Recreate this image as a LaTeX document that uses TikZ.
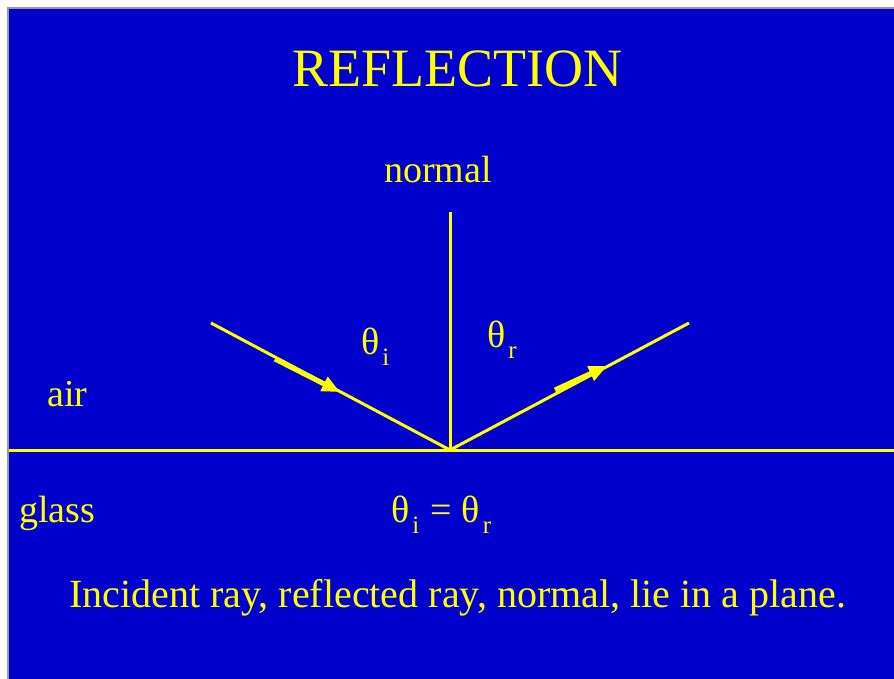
\documentclass[tikz,border=0pt]{standalone}
\usepackage{fontspec}
\setmainfont{Liberation Serif}
\usetikzlibrary{arrows.meta}
\definecolor{bg}{HTML}{0000CC}
\definecolor{ink}{HTML}{FFFF00}
\newcommand{\thsub}[1]{θ\kern3pt\raisebox{-0.3em}{\fontsize{25}{25}\selectfont #1}}
\begin{document}
\begin{tikzpicture}[x=1pt,y=-1pt,
  lbl/.style={text=ink,inner sep=0pt,font=\fontsize{38}{40}\selectfont},
  ray/.style={draw=ink,line width=3pt},
  raymark/.style={draw=ink,line width=5pt,-{Triangle[length=18pt,width=15pt]}}]
\useasboundingbox (0,0) rectangle (894,678);
\fill[white] (0,0) rectangle (894,678);
\draw[fill=bg,draw=gray!80,line width=1.2pt] (8,8) rectangle (900,690);
\coordinate (O) at (450,450);
\coordinate (inc) at (211,323);
\coordinate (refl) at (689,323);
\coordinate (ntop) at (450,212);
\coordinate (hl) at (9,450);
\coordinate (hr) at (894,450);
\coordinate (a1) at (275,359);
\coordinate (a2) at (340,392);
\coordinate (b1) at (555,390);
\coordinate (b2) at (607,366);
\draw[ray] (hl) -- (hr);
\draw[ray] (O) -- (ntop);
\draw[ray] (inc) -- (O) -- (refl);
\draw[raymark] (a1) -- (a2);
\draw[raymark] (b1) -- (b2);
\node[lbl,anchor=base,font=\fontsize{54}{60}\selectfont] (title) at (457,86) {REFLECTION};
\node[lbl,anchor=base] (normal) at (438,182) {normal};
\node[lbl,anchor=base west,font=\fontsize{38}{40}\selectfont] (ti) at (361,354) {\thsub{i}};
\node[lbl,anchor=base west,font=\fontsize{38}{40}\selectfont] (tr) at (487,347) {\thsub{r}};
\node[lbl,anchor=base west] (air) at (47,406) {air};
\node[lbl,anchor=base west] (glass) at (19,522) {glass};
\node[lbl,anchor=base west,font=\fontsize{38}{40}\selectfont] (eq) at (391,522) {\thsub{i}\hspace{11pt}=\hspace{10pt}\thsub{r}};
\node[lbl,anchor=base west,font=\fontsize{40}{42}\selectfont] (stmt) at (69,607) {Incident ray, reflected ray, normal, lie in a plane.};
\end{tikzpicture}
\end{document}
